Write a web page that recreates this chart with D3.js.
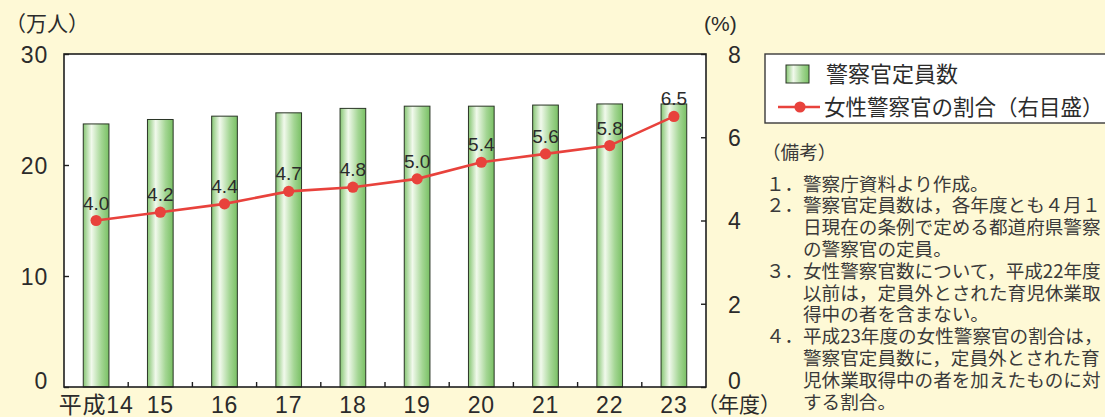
<!DOCTYPE html>
<html>
<head>
<meta charset="utf-8">
<script src="https://cdn.jsdelivr.net/npm/d3@7"></script>
<style>
  html, body { margin: 0; padding: 0; background: #fef9d6; }
  svg { display: block; }
  .num { font-family: "Liberation Sans", Arial, sans-serif; fill: #2b2b2b; }
  .jp { font-family: "Noto Sans CJK JP", sans-serif; fill: #2b2b2b; }
  .note { font-family: "Noto Sans CJK JP", sans-serif; fill: #3a3a3a; font-size: 18.6px; }
</style>
</head>
<body>
<svg id="chart" width="1105" height="417"></svg>
<script>
// 年度（平成）
const years = ["平成14", "15", "16", "17", "18", "19", "20", "21", "22", "23"];
// 警察官定員数（万人）
const officers = [23.7, 24.1, 24.4, 24.7, 25.1, 25.3, 25.3, 25.4, 25.5, 25.5];
// 女性警察官の割合（%）
const femaleShare = [4.0, 4.2, 4.4, 4.7, 4.8, 5.0, 5.4, 5.6, 5.8, 6.5];
// 軸目盛
const leftTicks = [0, 10, 20, 30];
const rightTicks = [0, 2, 4, 6, 8];
// 凡例・備考
const legendLabels = ["警察官定員数", "女性警察官の割合（右目盛）"];
const notes = [
  { no: "", lines: ["（備考）"] },
  { no: "１．", lines: ["警察庁資料より作成。"] },
  { no: "２．", lines: ["警察官定員数は，各年度とも４月１", "日現在の条例で定める都道府県警察", "の警察官の定員。"] },
  { no: "３．", lines: ["女性警察官数について，平成22年度", "以前は，定員外とされた育児休業取", "得中の者を含まない。"] },
  { no: "４．", lines: ["平成23年度の女性警察官の割合は，", "警察官定員数に，定員外とされた育", "児休業取得中の者を加えたものに対", "する割合。"] }
];

const svg = d3.select("#chart");
const plot = { left: 64, right: 706, top: 54, bottom: 387 };

const x = d3.scaleBand().domain(years).range([plot.left, plot.right]).paddingInner(0.6).paddingOuter(0.3);
const yL = d3.scaleLinear().domain([0, 30]).range([plot.bottom, plot.top]);
const yR = d3.scaleLinear().domain([0, 8]).range([plot.bottom, plot.top]);

// bar gradient
const defs = svg.append("defs");
const grad = defs.append("linearGradient").attr("id", "barGrad").attr("x1", "0").attr("x2", "1").attr("y1", "0").attr("y2", "0");
grad.append("stop").attr("offset", "0%").attr("stop-color", "#86c673");
grad.append("stop").attr("offset", "32%").attr("stop-color", "#f1f9ec");
grad.append("stop").attr("offset", "70%").attr("stop-color", "#a4d694");
grad.append("stop").attr("offset", "100%").attr("stop-color", "#79c064");

// plot background
svg.append("rect")
  .attr("x", plot.left).attr("y", plot.top)
  .attr("width", plot.right - plot.left).attr("height", plot.bottom - plot.top)
  .attr("fill", "#ffffff");

// bars
svg.append("g").selectAll("rect").data(officers).join("rect")
  .attr("x", (d, i) => x(years[i]))
  .attr("y", d => yL(d))
  .attr("width", x.bandwidth())
  .attr("height", d => yL(0) - yL(d))
  .attr("fill", "url(#barGrad)")
  .attr("stroke", "#2a3526").attr("stroke-width", 1);

// frame
svg.append("rect")
  .attr("x", plot.left).attr("y", plot.top)
  .attr("width", plot.right - plot.left).attr("height", plot.bottom - plot.top)
  .attr("fill", "none").attr("stroke", "#1e1e1e").attr("stroke-width", 1.6);

// left axis (ticks point inward); the zero label sits a little higher
const axL = svg.append("g").attr("transform", `translate(${plot.left},0)`)
  .call(d3.axisLeft(yL).tickValues(leftTicks).tickSize(-5).tickPadding(16));
axL.select(".domain").remove();
axL.selectAll("line").attr("stroke", "#1e1e1e").attr("stroke-width", 1.4);
axL.selectAll("text").attr("class", "num").attr("font-size", 23).attr("fill", "#2b2b2b")
  .attr("letter-spacing", 0.8)
  .attr("dy", d => d === 0 ? "0.05em" : "0.36em");

// right axis
const axR = svg.append("g").attr("transform", `translate(${plot.right},0)`)
  .call(d3.axisRight(yR).tickValues(rightTicks).tickSize(-5).tickPadding(22));
axR.select(".domain").remove();
axR.selectAll("line").attr("stroke", "#1e1e1e").attr("stroke-width", 1.4);
axR.selectAll("text").attr("class", "num").attr("font-size", 23).attr("fill", "#2b2b2b")
  .attr("dy", d => d === 0 ? "0.05em" : "0.36em");

// x-axis ticks between categories
const step = x.step();
const boundaries = years.slice(1).map(c => x(c) - (step - x.bandwidth()) / 2);
svg.append("g").selectAll("line").data(boundaries).join("line")
  .attr("x1", d => d).attr("x2", d => d)
  .attr("y1", plot.bottom).attr("y2", plot.bottom - 5)
  .attr("stroke", "#1e1e1e").attr("stroke-width", 1.4);

// x labels
svg.append("g").selectAll("text").data(years).join("text")
  .attr("x", d => x(d) + x.bandwidth() / 2)
  .attr("y", 413)
  .attr("text-anchor", "middle")
  .attr("font-size", 23)
  .attr("class", (d) => /平成/.test(d) ? "jp" : "num")
  .style("font-family", "'Liberation Sans', 'Noto Sans CJK JP', sans-serif")
  .attr("letter-spacing", 0.8)
  .text(d => d);

svg.append("text").attr("class", "jp").attr("x", 697).attr("y", 412)
  .attr("font-size", 21).text("（年度）");

// unit labels
svg.append("text").attr("class", "jp").attr("x", 5).attr("y", 31)
  .attr("font-size", 21).text("（万人）");
svg.append("text").attr("class", "num").attr("x", 704).attr("y", 31)
  .attr("font-size", 21).text("(%)");

// line
const line = d3.line()
  .x((d, i) => x(years[i]) + x.bandwidth() / 2)
  .y(d => yR(d));
svg.append("path").datum(femaleShare)
  .attr("d", line).attr("fill", "none")
  .attr("stroke", "#e8423c").attr("stroke-width", 2.6);
svg.append("g").selectAll("circle").data(femaleShare).join("circle")
  .attr("cx", (d, i) => x(years[i]) + x.bandwidth() / 2)
  .attr("cy", d => yR(d))
  .attr("r", 5.6).attr("fill", "#e8423c");
svg.append("g").selectAll("text").data(femaleShare).join("text")
  .attr("class", "num")
  .attr("x", (d, i) => x(years[i]) + x.bandwidth() / 2)
  .attr("y", d => yR(d) - 11)
  .attr("text-anchor", "middle")
  .attr("font-size", 19)
  .attr("fill", "#2b2b2b")
  .text(d => d.toFixed(1));

// legend
const lg = svg.append("g");
lg.append("rect").attr("x", 765).attr("y", 54).attr("width", 345).attr("height", 69)
  .attr("fill", "#ffffff").attr("stroke", "#3a3a3a").attr("stroke-width", 1.4);
lg.append("rect").attr("x", 786).attr("y", 65).attr("width", 23).attr("height", 18)
  .attr("fill", "url(#barGrad)").attr("stroke", "#2a3526").attr("stroke-width", 1);
lg.append("text").attr("class", "jp").attr("x", 826).attr("y", 74).attr("dy", "0.36em")
  .attr("font-size", 22).text(legendLabels[0]);
lg.append("line").attr("x1", 778).attr("x2", 820).attr("y1", 107).attr("y2", 107)
  .attr("stroke", "#e8423c").attr("stroke-width", 2.4);
lg.append("circle").attr("cx", 800).attr("cy", 107).attr("r", 5.6).attr("fill", "#e8423c");
lg.append("text").attr("class", "jp").attr("x", 824).attr("y", 107).attr("dy", "0.36em")
  .attr("font-size", 21.5).text(legendLabels[1]);

// notes
const ng = svg.append("g");
ng.append("text").attr("class", "note").attr("x", 762).attr("y", 152).attr("dy", "0.36em")
  .attr("font-size", 17).text(notes[0].lines[0]);
let row = 0;
const lineY = r => 184 + r * 21.8;
notes.slice(1).forEach(n => {
  ng.append("text").attr("class", "note").attr("x", 766).attr("y", lineY(row)).attr("dy", "0.36em").text(n.no);
  n.lines.forEach(t => {
    ng.append("text").attr("class", "note").attr("x", 803).attr("y", lineY(row)).attr("dy", "0.36em").text(t);
    row++;
  });
});
</script>
</body>
</html>
